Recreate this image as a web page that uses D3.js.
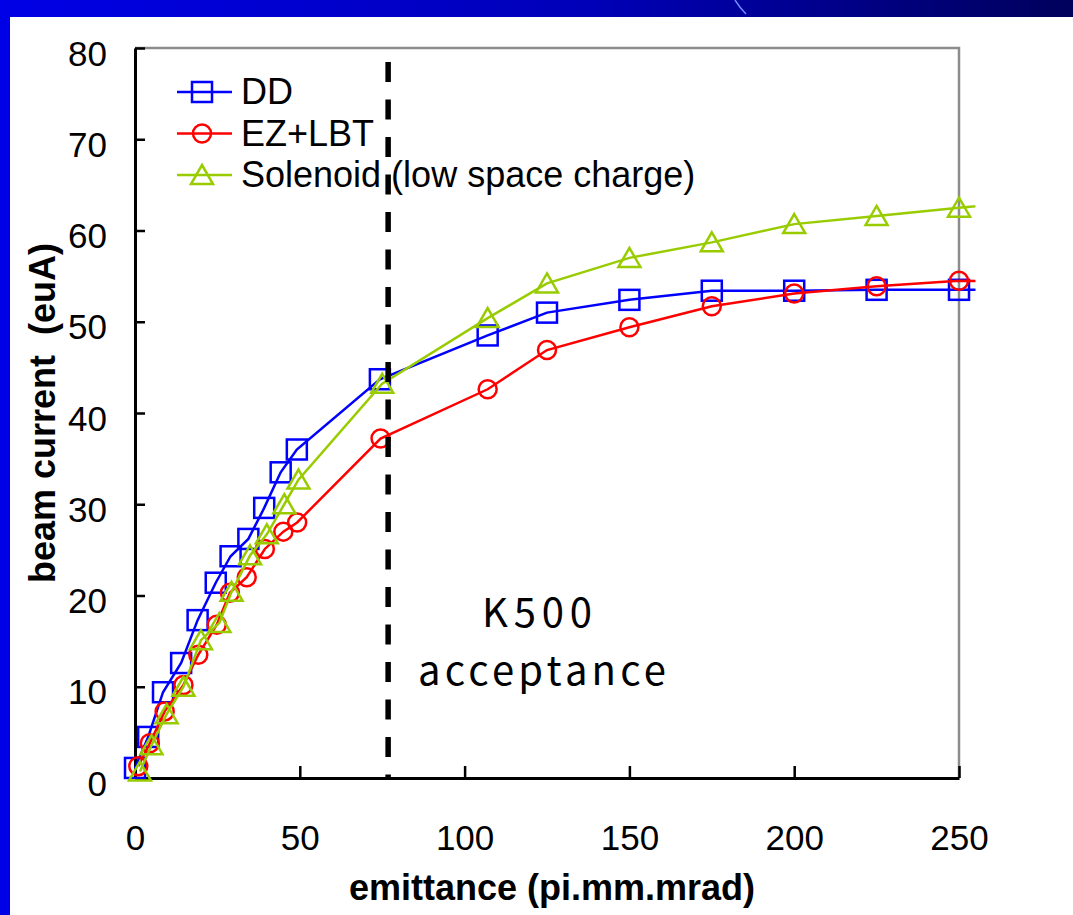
<!DOCTYPE html>
<html>
<head>
<meta charset="utf-8">
<script src="https://cdn.jsdelivr.net/npm/d3@7"></script>
<style>
  html, body { margin: 0; padding: 0; background: white; }
  svg { display: block; }
</style>
</head>
<body>
<div id="chart"></div>
<script>
// --- data ---
var seriesNames = ["DD", "EZ+LBT", "Solenoid (low space charge)"];

var ddX = [0, 4, 8.5, 14, 19, 24.5, 29, 34.4, 39.2, 44.2, 49.1, 74.3, 107, 125, 150, 175, 200, 225, 250, 275];
var ddY = [1.1, 4.5, 9.4, 12.6, 17.3, 21.4, 24.3, 26.2, 29.6, 33.5, 36.0, 43.7, 48.5, 51.0, 52.4, 53.4, 53.4, 53.5, 53.5, 53.5];

var ezX = [1, 4.5, 9, 14.7, 19.2, 24.8, 28.8, 33.9, 39.4, 45, 49.2, 74.5, 107, 125, 150, 175, 200, 225, 250, 275];
var ezY = [1.3, 3.8, 7.3, 10.2, 13.5, 16.8, 20.3, 22.0, 25.1, 27.0, 28.0, 37.2, 42.6, 46.9, 49.4, 51.7, 53.1, 53.9, 54.5, 54.4];

var solX = [1.5, 5, 9.6, 14.7, 20, 25.6, 29.3, 34.9, 40, 45.3, 49.6, 75, 107, 125, 150, 175, 200, 225, 250, 275];
var solY = [0.7, 3.6, 7.0, 10.0, 15.1, 17.0, 20.4, 24.4, 26.7, 30.0, 32.7, 43.2, 50.4, 54.2, 57.0, 58.7, 60.7, 61.6, 62.5, 63.3];

var xTicks = [0, 50, 100, 150, 200, 250];
var yTicks = [0, 10, 20, 30, 40, 50, 60, 70, 80];
var acceptanceX = 76.8;

// Colors
var ddColor = "#0000ff";
var ezColor = "#ff0000";
var solColor = "#99cc00";
var frameGray = "#8c8c8c";

var width = 1073, height = 915;
var fontMain = "'Liberation Sans', Arial, sans-serif";

var svg = d3.select("#chart").append("svg")
    .attr("width", width)
    .attr("height", height);

// slide decoration: top bar + left strip
var defs = svg.append("defs");
var grad = defs.append("linearGradient").attr("id", "topbar")
    .attr("x1", "0%").attr("x2", "100%").attr("y1", "0%").attr("y2", "0%");
grad.append("stop").attr("offset", "0%").attr("stop-color", "#0000e6");
grad.append("stop").attr("offset", "55%").attr("stop-color", "#0000b8");
grad.append("stop").attr("offset", "100%").attr("stop-color", "#00005c");

svg.append("rect").attr("x", 0).attr("y", 0).attr("width", width).attr("height", 17)
    .attr("fill", "url(#topbar)");
svg.append("rect").attr("x", 0).attr("y", 0).attr("width", 10).attr("height", height)
    .attr("fill", "#0000e6");
svg.append("path").attr("d", "M735,0 Q740,8 746,14")
    .attr("fill", "none").attr("stroke", "#6f8cff").attr("stroke-width", 1.5);

// 1. scales
var x = d3.scaleLinear().domain([0, 250]).range([135, 959]);
var y = d3.scaleLinear().domain([0, 80]).range([778, 48]);

// gray frame (top & right)
svg.append("path")
    .attr("d", `M${x(0)},${y(80)}H${x(250)}V${y(0)}`)
    .attr("fill", "none")
    .attr("stroke", frameGray)
    .attr("stroke-width", 2.5);

// 2. axes
var yAxis = svg.append("g")
    .attr("transform", `translate(${x(0)},0)`)
    .call(d3.axisLeft(y).tickValues(yTicks).tickSize(-10).tickSizeOuter(0).tickPadding(28));
var xAxis = svg.append("g")
    .attr("transform", `translate(0,${y(0)})`)
    .call(d3.axisBottom(x).tickValues(xTicks).tickSize(-12).tickSizeOuter(0).tickPadding(0));

[yAxis, xAxis].forEach(function(ax) {
    ax.select(".domain").attr("stroke", "black").attr("stroke-width", 3);
    ax.selectAll(".tick line").attr("stroke", "black").attr("stroke-width", 2.5);
    ax.selectAll("text")
        .attr("fill", "black")
        .attr("font-family", fontMain)
        .attr("font-size", "35px");
});
yAxis.selectAll("text").attr("dy", null).attr("y", 17);
xAxis.selectAll("text").attr("dy", null).attr("y", 72);

// axis titles
svg.append("text")
    .attr("x", 552).attr("y", 900)
    .attr("text-anchor", "middle")
    .attr("font-family", fontMain)
    .attr("font-weight", "bold")
    .attr("font-size", "36px")
    .text("emittance (pi.mm.mrad)");

svg.append("text")
    .attr("transform", "translate(55,413) rotate(-90)")
    .attr("text-anchor", "middle")
    .attr("font-family", fontMain)
    .attr("font-weight", "bold")
    .attr("font-size", "36px")
    .attr("xml:space", "preserve")
    .text("beam current  (euA)");

// 3. series
var clip = defs.append("clipPath").attr("id", "plotclip");
clip.append("rect")
    .attr("x", x(0) - 20).attr("y", 0)
    .attr("width", x(255) - x(0) + 20).attr("height", height);

var series = [
    { name: seriesNames[0], xs: ddX, ys: ddY, color: ddColor, shape: "square" },
    { name: seriesNames[1], xs: ezX, ys: ezY, color: ezColor, shape: "circle" },
    { name: seriesNames[2], xs: solX, ys: solY, color: solColor, shape: "triangle" }
];

var line = d3.line().x(d => x(d[0])).y(d => y(d[1]));

function drawMarker(g, shape, color) {
    if (shape === "square") {
        g.append("rect").attr("x", -10).attr("y", -10).attr("width", 20).attr("height", 20)
            .attr("fill", "none").attr("stroke", color).attr("stroke-width", 2.5);
    } else if (shape === "circle") {
        g.append("circle").attr("r", 9)
            .attr("fill", "none").attr("stroke", color).attr("stroke-width", 2.5);
    } else {
        g.append("path").attr("d", "M0,-10L11,9L-11,9Z")
            .attr("fill", "none").attr("stroke", color).attr("stroke-width", 2.5);
    }
}

var plot = svg.append("g").attr("clip-path", "url(#plotclip)");
series.forEach(function(s) {
    var pts = s.xs.map((v, i) => [v, s.ys[i]]);
    var g = plot.append("g");
    g.append("path")
        .attr("d", line(pts))
        .attr("fill", "none")
        .attr("stroke", s.color)
        .attr("stroke-width", 2.5);
    g.selectAll("g.pt")
        .data(pts.filter(p => p[0] <= 250))
        .enter()
        .append("g")
        .attr("class", "pt")
        .attr("transform", d => `translate(${x(d[0])},${y(d[1])})`)
        .each(function() { drawMarker(d3.select(this), s.shape, s.color); });
});

// 4. legend
var legend = svg.append("g");
series.forEach(function(s, i) {
    var cy = 92 + i * 41.5;
    legend.append("line")
        .attr("x1", 177).attr("x2", 232).attr("y1", cy).attr("y2", cy)
        .attr("stroke", s.color).attr("stroke-width", 2.5);
    drawMarker(legend.append("g").attr("transform", `translate(202,${cy})`), s.shape, s.color);
    legend.append("text")
        .attr("x", 241).attr("y", cy + 12)
        .attr("font-family", fontMain)
        .attr("font-size", "36px")
        .attr("fill", "black")
        .text(s.name);
});

// 5. acceptance marker
svg.append("line")
    .attr("x1", x(acceptanceX)).attr("x2", x(acceptanceX))
    .attr("y1", 62).attr("y2", y(0))
    .attr("stroke", "black")
    .attr("stroke-width", 5.5)
    .attr("stroke-dasharray", "20,17.5");

var annoFont = "'Noto Sans CJK JP', 'DejaVu Sans', sans-serif";
svg.append("text")
    .attr("x", 537).attr("y", 627)
    .attr("text-anchor", "middle")
    .attr("font-family", annoFont)
    .attr("font-size", "40px")
    .attr("textLength", 110)
    .attr("lengthAdjust", "spacing")
    .text("K500");
svg.append("text")
    .attr("x", 542).attr("y", 685)
    .attr("text-anchor", "middle")
    .attr("font-family", annoFont)
    .attr("font-size", "40px")
    .attr("textLength", 248)
    .attr("lengthAdjust", "spacing")
    .text("acceptance");
</script>
</body>
</html>
